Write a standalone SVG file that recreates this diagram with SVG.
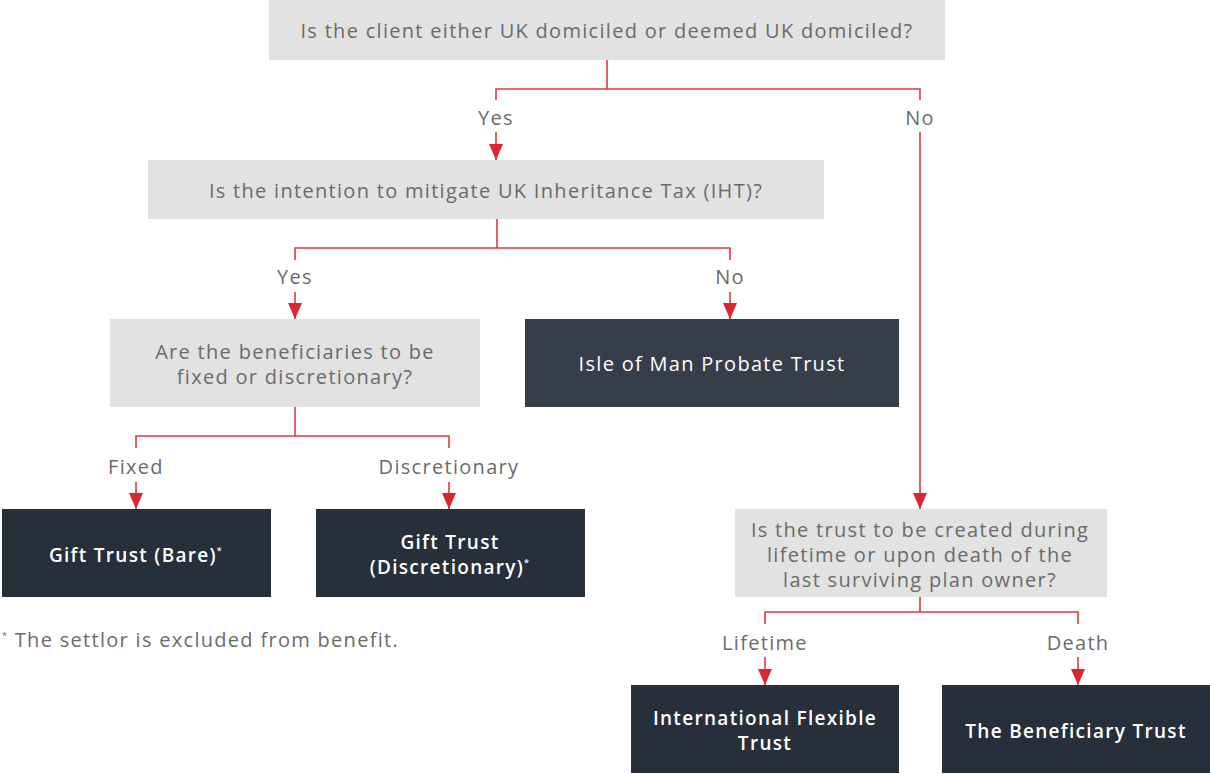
<svg xmlns="http://www.w3.org/2000/svg" width="1210" height="774" viewBox="0 0 1210 774">
<defs>
<marker id="ah" markerUnits="userSpaceOnUse" markerWidth="16" markerHeight="14" viewBox="0 0 16 14" refX="16" refY="7" orient="auto">
<path d="M0,0 L16,7 L0,14 Z" fill="#d9262f"/>
</marker>
<style>
.q{fill:#e2e2e2}
.d{fill:#272f3a}
.d2{fill:#353e49}
.qt{font-family:"Open Sans","Liberation Sans",sans-serif;font-size:20px;fill:#6b6b6b;text-anchor:middle;letter-spacing:1.3px}
.lb{font-family:"Open Sans","Liberation Sans",sans-serif;font-size:20px;fill:#6b6b6b;text-anchor:middle;letter-spacing:1.3px}
.at{font-family:"Open Sans","Liberation Sans",sans-serif;font-size:20px;fill:#ffffff;text-anchor:middle;letter-spacing:1.3px}
.bt{font-family:"Open Sans","Liberation Sans",sans-serif;font-size:19px;font-weight:600;fill:#ffffff;text-anchor:middle;letter-spacing:1.3px}
.sup{font-size:9px}
.ln{fill:none;stroke:#df3a43;stroke-width:1.6}
.ar{fill:none;stroke:#df3a43;stroke-width:1.6;marker-end:url(#ah)}
</style>
</defs>
<rect width="1210" height="774" fill="#ffffff"/>
<g id="connectors">
<path class="ln" d="M607,60 V89 M496,100 V89 H920 V100"/>
<path class="ar" d="M496,132 V160"/>
<path class="ar" d="M920,132 V509"/>
<path class="ln" d="M497,219 V248 M295,260 V248 H730 V260"/>
<path class="ar" d="M295,292 V319"/>
<path class="ar" d="M730,292 V319"/>
<path class="ln" d="M295,407 V436 M136,448 V436 H449 V448"/>
<path class="ar" d="M136,482 V509"/>
<path class="ar" d="M449,482 V509"/>
<path class="ln" d="M920,597 V612 M765,624 V612 H1078 V624"/>
<path class="ar" d="M765,657 V685"/>
<path class="ar" d="M1078,657 V685"/>
<text class="lb" x="496" y="125">Yes</text>
<text class="lb" x="920" y="125">No</text>
<text class="lb" x="295" y="284">Yes</text>
<text class="lb" x="730" y="284">No</text>
<text class="lb" x="136" y="474">Fixed</text>
<text class="lb" x="449" y="474">Discretionary</text>
<text class="lb" x="765" y="650">Lifetime</text>
<text class="lb" x="1078" y="650">Death</text>
</g>
<g id="q1">
<rect class="q" x="269" y="0" width="676" height="60"/>
<text class="qt" x="607" y="38">Is the client either UK domiciled or deemed UK domiciled?</text>
</g>
<g id="q2">
<rect class="q" x="148" y="160" width="676" height="59"/>
<text class="qt" x="486" y="198">Is the intention to mitigate UK Inheritance Tax (IHT)?</text>
</g>
<g id="q3">
<rect class="q" x="110" y="319" width="370" height="88"/>
<text class="qt" x="295" y="359">Are the beneficiaries to be</text>
<text class="qt" x="295" y="384">fixed or discretionary?</text>
</g>
<g id="iom">
<rect class="d2" x="525" y="319" width="374" height="88"/>
<text class="at" x="712" y="371">Isle of Man Probate Trust</text>
</g>
<g id="gtb">
<rect class="d" x="2" y="509" width="269" height="88"/>
<text class="bt" x="136" y="562">Gift Trust (Bare)<tspan class="sup" dy="-8">*</tspan></text>
</g>
<g id="gtd">
<rect class="d" x="316" y="509" width="269" height="88"/>
<text class="bt" x="450" y="549">Gift Trust</text>
<text class="bt" x="450" y="574">(Discretionary)<tspan class="sup" dy="-8">*</tspan></text>
</g>
<g id="q4">
<rect class="q" x="735" y="509" width="372" height="88"/>
<text class="qt" x="920" y="537">Is the trust to be created during</text>
<text class="qt" x="920" y="562">lifetime or upon death of the</text>
<text class="qt" x="920" y="587">last surviving plan owner?</text>
</g>
<g id="ift">
<rect class="d" x="631" y="685" width="268" height="88"/>
<text class="bt" x="765" y="725">International Flexible</text>
<text class="bt" x="765" y="750">Trust</text>
</g>
<g id="tbt">
<rect class="d" x="942" y="685" width="268" height="88"/>
<text class="bt" x="1076" y="738">The Beneficiary Trust</text>
</g>
<g id="footnote">
<text class="lb" x="2" y="647" style="text-anchor:start"><tspan class="sup" dy="-8">*</tspan><tspan dy="8"> The settlor is excluded from benefit.</tspan></text>
</g>
</svg>
